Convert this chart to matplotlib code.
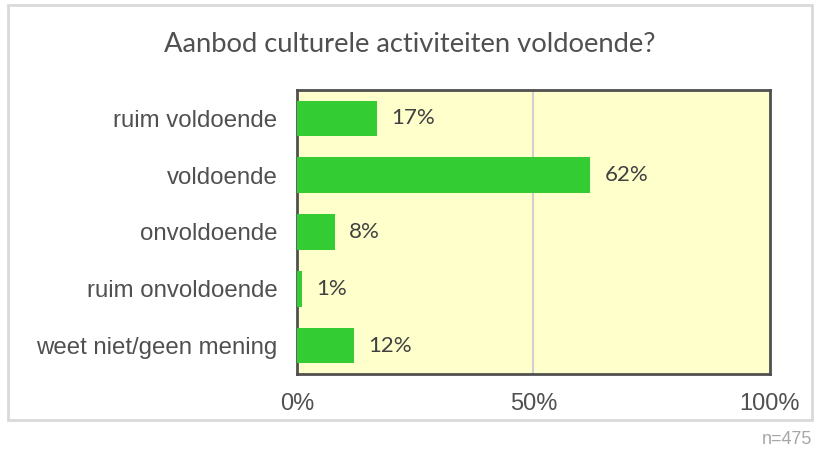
import matplotlib
matplotlib.use("Agg")
import matplotlib.pyplot as plt
from matplotlib.patches import Rectangle

categories = ["ruim voldoende", "voldoende", "onvoldoende", "ruim onvoldoende", "weet niet/geen mening"]
values = [17, 62, 8, 1, 12]
value_labels = ["17%", "62%", "8%", "1%", "12%"]
xticks = [0, 50, 100]
xtick_labels = ["0%", "50%", "100%"]
title = "Aanbod culturele activiteiten voldoende?"
note = "n=475"

fig = plt.figure(figsize=(8.2, 4.5), dpi=100)
fig.patch.set_facecolor("white")

# outer frame
fig.add_artist(Rectangle((8/820, 1-420/450), 804/820, 415/450, transform=fig.transFigure,
                         fill=False, edgecolor="#d9d9d9", linewidth=2))

ax = fig.add_axes([297/820, 1-374/450, 473/820, 284/450])
ax.set_facecolor("#ffffcc")
y = list(range(len(categories)))
ax.barh(y, values, height=0.63, color="#33cc33", zorder=3)
ax.set_xlim(0, 100)
ax.set_ylim(len(categories)-0.5, -0.5)
ax.axvline(50, color="#d0d0d0", linewidth=1.5, zorder=1)
for s in ax.spines.values():
    s.set_color("#505050")
    s.set_linewidth(2)
ax.set_yticks(y)
ax.set_yticklabels(categories, fontsize=17.3, color="#505050", family=["Liberation Sans", "DejaVu Sans"])
ax.set_xticks(xticks)
ax.set_xticklabels(xtick_labels, fontsize=17, color="#505050", family=["Liberation Sans", "DejaVu Sans"])
ax.tick_params(axis="both", length=0)
ax.tick_params(axis="y", pad=14)
ax.tick_params(axis="x", pad=14)

for yi, v, lab in zip(y, values, value_labels):
    ax.text(v + 3, yi, lab, va="center", ha="left", fontsize=16, color="#404040",
            family=["Lato", "DejaVu Sans"], zorder=4)

fig.text(0.5, 1-45/450, title, ha="center", va="center", fontsize=19.7, color="#505050",
         family=["Lato", "DejaVu Sans"])
fig.text(812/820, 1-440/450, note, ha="right", va="center", fontsize=13, color="#a6a6a6",
         family=["Liberation Sans", "DejaVu Sans"])

fig.savefig("out.png", dpi=100)
